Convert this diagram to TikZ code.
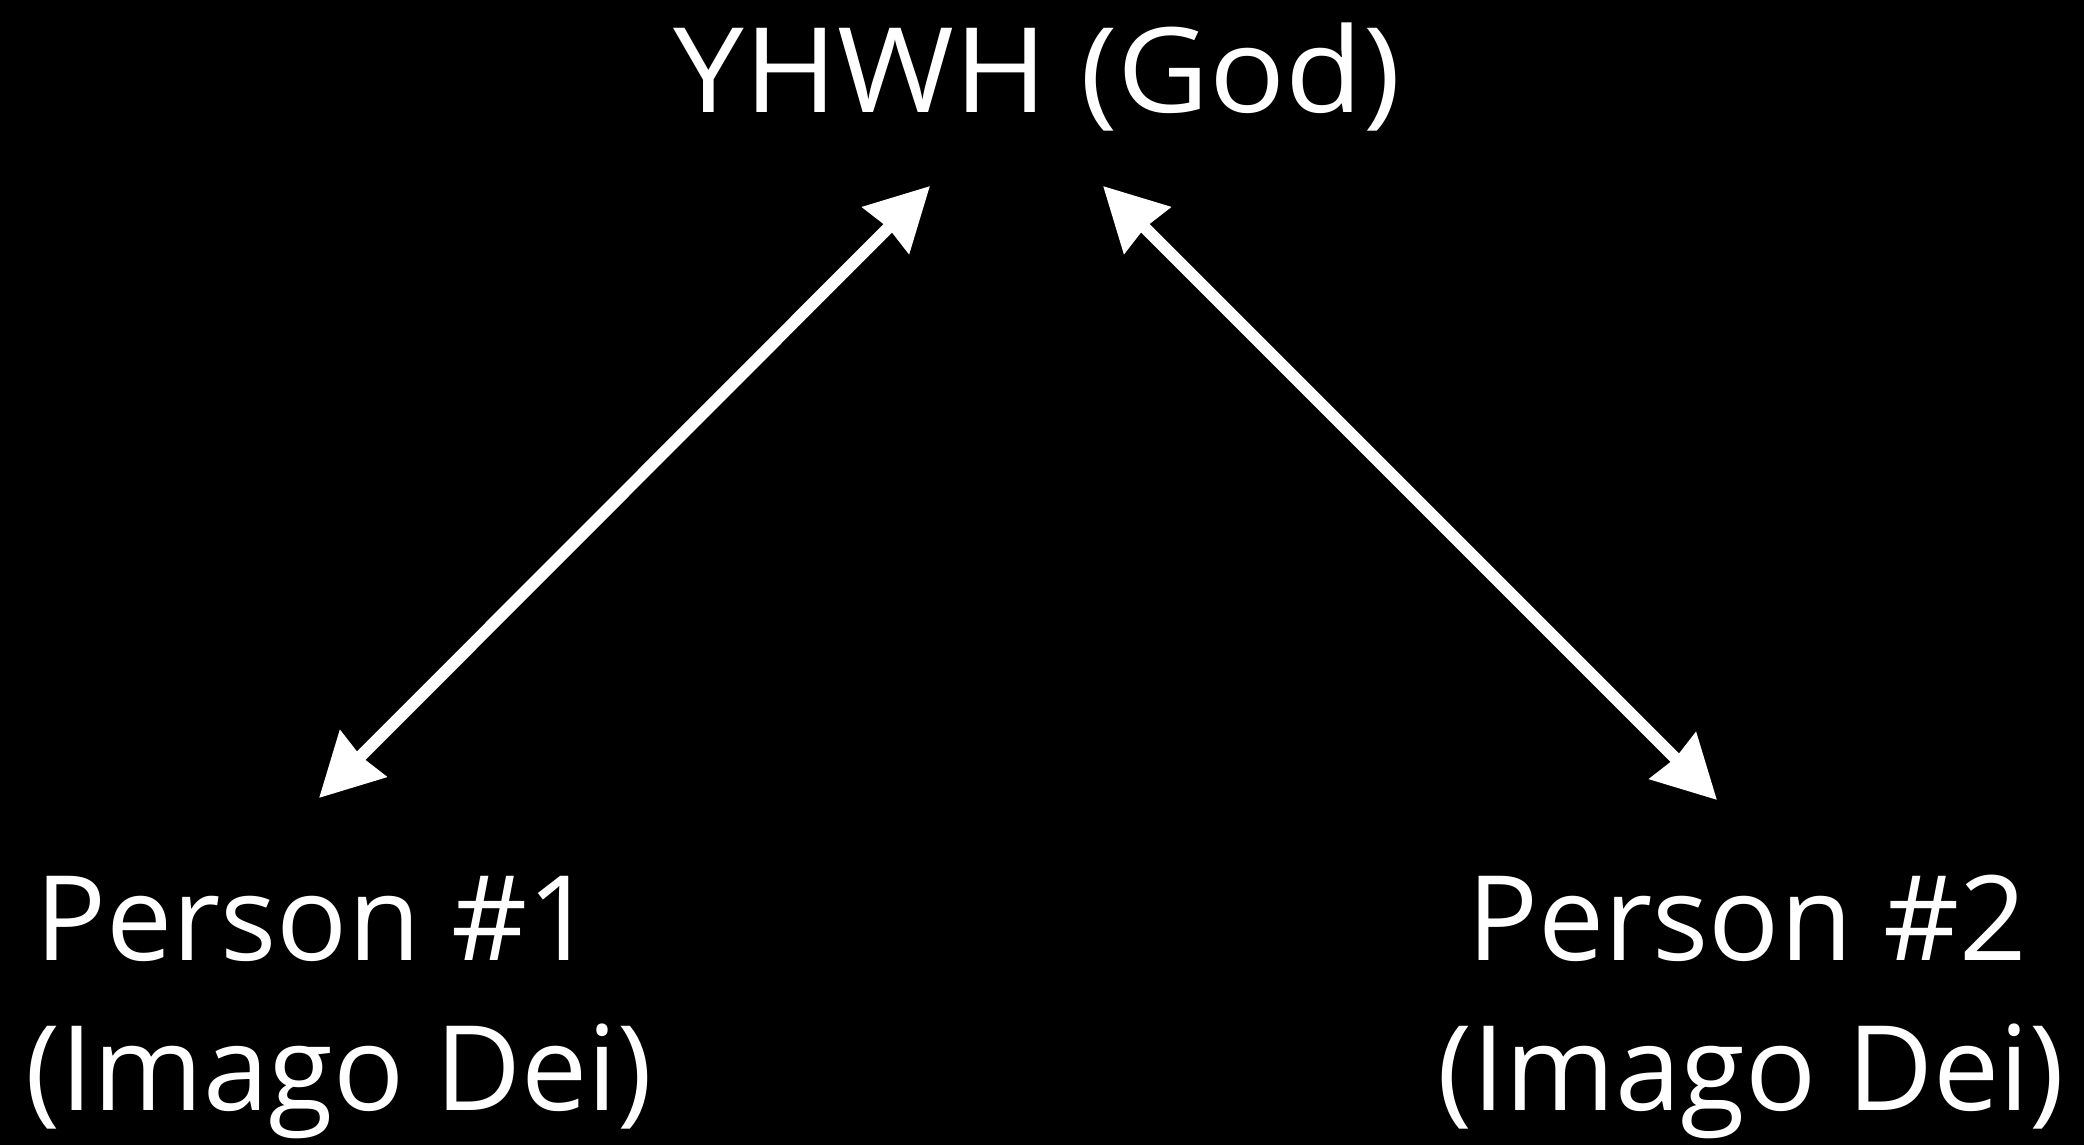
\documentclass[tikz,border=0pt]{standalone}
\usepackage{fontspec}
\setmainfont{Open Sans}
\usetikzlibrary{arrows.meta}
\begin{document}
\begin{tikzpicture}[x=1pt,y=-1pt,
  lbl/.style={text=white,font=\fontsize{118}{140}\selectfont,anchor=base,inner sep=0pt},
  link/.style={white,line width=12pt,{Stealth[length=62pt,width=64pt,inset=3pt]}-{Stealth[length=62pt,width=64pt,inset=3pt]}}]
\fill[black] (0,0) rectangle (2084,1145);
\useasboundingbox (0,0) rectangle (2084,1145);
\node[lbl,xscale=1.07,transform shape] (god) at (1037,113) {YHWH (God)};
\node[lbl] (p1a) at (315,960) {Person \#1};
\node[lbl] (p1b) at (339,1110) {(Imago Dei)};
\node[lbl] (p2a) at (1747,960) {Person \#2};
\node[lbl] (p2b) at (1751,1110) {(Imago Dei)};
\coordinate (g1) at (930,186);
\coordinate (g2) at (1103,186);
\coordinate (e1) at (319,798);
\coordinate (e2) at (1717,800);
\draw[link] (e1) -- (g1);
\draw[link] (g2) -- (e2);
\end{tikzpicture}
\end{document}
